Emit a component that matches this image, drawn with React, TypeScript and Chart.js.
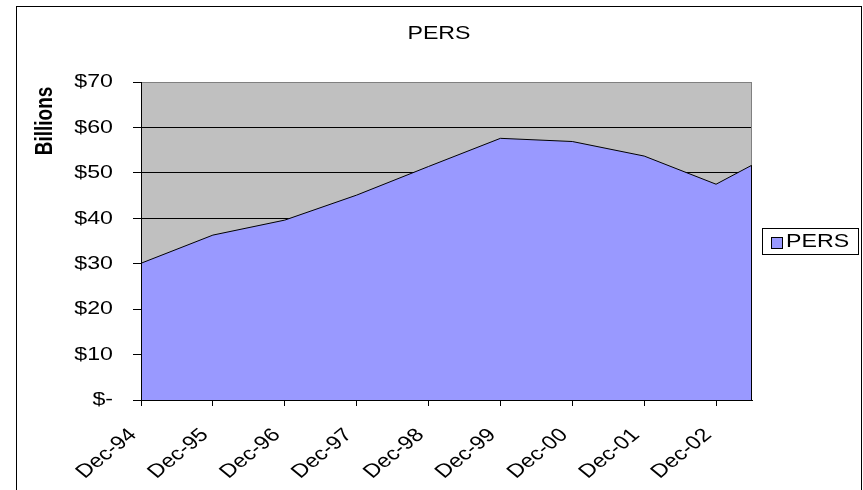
import React, { useEffect, useRef } from "react";
import { Chart, registerables } from "chart.js";

Chart.register(...registerables);

const title = "PERS";
const seriesName = "PERS";
const yAxisTitle = "Billions";
const categories = ["Dec-94", "Dec-95", "Dec-96", "Dec-97", "Dec-98", "Dec-99", "Dec-00", "Dec-01", "Dec-02"];
// position of each observation in years after Dec-94 (last one is Jun-03)
const positions = [0, 1, 2, 3, 4, 5, 6, 7, 8, 8.5];
const values = [30.1, 36.3, 39.6, 45.1, 51.4, 57.6, 56.9, 53.7, 47.5, 51.7];
const yTicks = [0, 10, 20, 30, 40, 50, 60, 70];
const yTickLabels = ["$-", "$10", "$20", "$30", "$40", "$50", "$60", "$70"];

const SX = 1.22;
const FONT = "19px 'Liberation Sans', Arial, sans-serif";
const BOLD = "bold 19px 'Liberation Sans', Arial, sans-serif";
const AREA = "#9999FF";

function txt(ctx: CanvasRenderingContext2D, s: string, x: number, y: number, font: string, align: CanvasTextAlign, base: CanvasTextBaseline, rot = 0) {
  ctx.save();
  ctx.translate(x, y);
  ctx.scale(SX, 1);
  ctx.rotate(rot);
  ctx.font = font;
  ctx.fillStyle = "#000";
  ctx.textAlign = align;
  ctx.textBaseline = base;
  ctx.fillText(s, 0, 0);
  ctx.restore();
}

const decor = {
  id: "decor",
  beforeDraw(chart: any) {
    const { ctx, chartArea: a } = chart;
    ctx.save();
    ctx.fillStyle = "#fff";
    ctx.fillRect(0, 0, chart.width, chart.height);
    ctx.fillStyle = "#C0C0C0";
    ctx.fillRect(a.left, a.top, a.right - a.left, a.bottom - a.top);
    ctx.restore();
  },
  afterDatasetsDraw(chart: any) {
    const { ctx, chartArea: a, scales } = chart;
    const xs = scales.x, ys = scales.y;
    ctx.save();
    ctx.lineWidth = 1;
    // top & right plot border
    ctx.strokeStyle = "#808080";
    ctx.beginPath();
    ctx.moveTo(a.left, Math.round(a.top) + 0.5);
    ctx.lineTo(Math.round(a.right) - 0.5, Math.round(a.top) + 0.5);
    ctx.lineTo(Math.round(a.right) - 0.5, a.bottom);
    ctx.stroke();
    // area right edge
    const lastY = ys.getPixelForValue(values[values.length - 1]);
    const lastX = xs.getPixelForValue(positions[positions.length - 1]);
    ctx.strokeStyle = "#000";
    ctx.beginPath();
    ctx.moveTo(Math.round(lastX) - 0.5, lastY);
    ctx.lineTo(Math.round(lastX) - 0.5, a.bottom);
    ctx.stroke();
    // axes
    ctx.beginPath();
    ctx.moveTo(Math.round(a.left) + 0.5, a.top);
    ctx.lineTo(Math.round(a.left) + 0.5, Math.round(a.bottom) + 0.5);
    ctx.lineTo(a.right, Math.round(a.bottom) + 0.5);
    ctx.stroke();
    ctx.restore();
  },
  afterDraw(chart: any) {
    const { ctx, chartArea: a, scales } = chart;
    const xs = scales.x, ys = scales.y;
    // outer border
    ctx.save();
    ctx.strokeStyle = "#000";
    ctx.lineWidth = 1;
    ctx.strokeRect(16.5, 6.5, 845, 520);
    ctx.restore();
    // title
    txt(ctx, title, 439, 39, FONT, "center", "alphabetic");
    // y axis title
    txt(ctx, yAxisTitle, 46, 121, BOLD, "center", "middle", -Math.PI / 2);
    // y tick labels
    yTicks.forEach((v, i) => {
      txt(ctx, yTickLabels[i], 113, ys.getPixelForValue(v), FONT, "right", "middle");
    });
    // x tick labels
    categories.forEach((c, i) => {
      const px = xs.getPixelForValue(i);
      txt(ctx, c, px - 8, a.bottom + 32, FONT, "right", "middle", -Math.PI / 4);
    });
    // legend
    ctx.save();
    ctx.strokeStyle = "#000";
    ctx.lineWidth = 1;
    ctx.strokeRect(762.5, 228.5, 96, 26);
    ctx.fillStyle = AREA;
    ctx.fillRect(771.5, 237.5, 11, 11);
    ctx.strokeRect(771.5, 237.5, 11, 11);
    ctx.restore();
    txt(ctx, seriesName, 786, 247, FONT, "left", "alphabetic");
  },
};

export default function App() {
  const ref = useRef<HTMLCanvasElement>(null);
  useEffect(() => {
    document.body.style.margin = "0";
    const chart = new Chart(ref.current!, {
      type: "line",
      data: {
        datasets: [
          {
            label: seriesName,
            data: positions.map((p, i) => ({ x: p, y: values[i] })),
            fill: "origin",
            backgroundColor: AREA,
            borderColor: "#000",
            borderWidth: 1,
            pointRadius: 0,
            tension: 0,
          },
        ],
      },
      options: {
        animation: false,
        responsive: false,
        devicePixelRatio: 1,
        layout: { padding: { top: 82, right: 111, bottom: 0, left: 0 } },
        plugins: { legend: { display: false }, title: { display: false }, tooltip: { enabled: false } },
        scales: {
          x: {
            type: "linear",
            min: 0,
            max: positions[positions.length - 1],
            afterBuildTicks: (s: any) => {
              s.ticks = categories.map((_, i) => ({ value: i }));
            },
            afterFit: (s: any) => {
              s.height = 90;
            },
            ticks: { display: false },
            grid: { drawOnChartArea: false, drawTicks: true, tickLength: 6, tickColor: "#000" },
            border: { display: true, color: "#000" },
          },
          y: {
            min: 0,
            max: 70,
            afterBuildTicks: (s: any) => {
              s.ticks = yTicks.map((v) => ({ value: v }));
            },
            afterFit: (s: any) => {
              s.width = 141;
            },
            ticks: { display: false },
            grid: {
              color: (c: any) => (c.tick && c.tick.value === 70 ? "#808080" : "#000"),
              drawTicks: true,
              tickLength: 8,
              tickColor: "#000",
            },
            border: { display: true, color: "#000" },
          },
        },
      },
      plugins: [decor],
    } as any);
    return () => chart.destroy();
  }, []);
  return (
    <div style={{ position: "fixed", left: 0, top: 0, width: 863, height: 490 }}>
      <canvas ref={ref} width={863} height={490} />
    </div>
  );
}
